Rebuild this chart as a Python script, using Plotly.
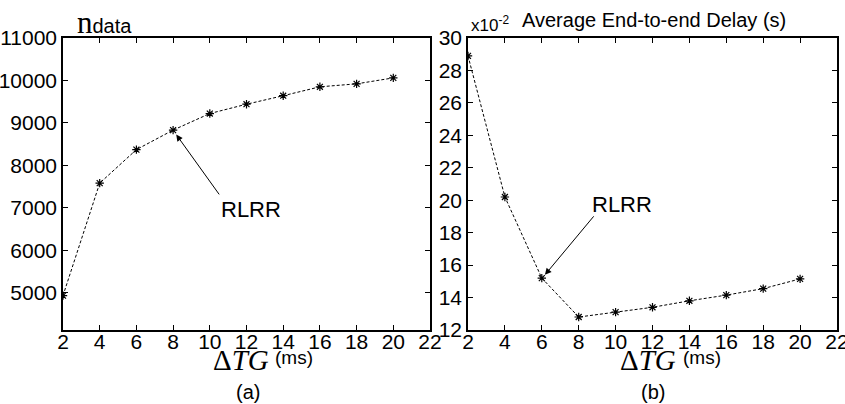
import plotly.graph_objects as go

# Guard-time values (ms)
dtg = [2, 4, 6, 8, 10, 12, 14, 16, 18, 20]

# (a) number of delivered data packets
n_data = [4930, 7580, 8370, 8830, 9220, 9440, 9640, 9850, 9920, 10060]

# (b) average end-to-end delay, in units of 1e-2 s
delay = [28.9, 20.2, 15.2, 12.8, 13.1, 13.4, 13.8, 14.15, 14.55, 15.15]

x_ticks = [2, 4, 6, 8, 10, 12, 14, 16, 18, 20, 22]
y_ticks_a = [5000, 6000, 7000, 8000, 9000, 10000, 11000]
y_ticks_b = [12, 14, 16, 18, 20, 22, 24, 26, 28, 30]

W, H = 845, 404
NARROW = "Liberation Sans Narrow, Arial Narrow, sans-serif"
SANS = "Liberation Sans, Arial, sans-serif"
SERIF = "Liberation Serif, Times New Roman, serif"

fig = go.Figure()

line_style = dict(color="black", width=1, dash="3px,2px")
marker_style = dict(symbol="asterisk-open", size=7, color="black",
                    line=dict(color="black", width=1.2))

fig.add_trace(go.Scatter(x=dtg, y=n_data, mode="lines+markers",
                         line=line_style, marker=marker_style,
                         xaxis="x", yaxis="y", showlegend=False))
fig.add_trace(go.Scatter(x=dtg, y=delay, mode="lines+markers",
                         line=line_style, marker=marker_style,
                         xaxis="x2", yaxis="y2", showlegend=False))

ydom = [1 - 330 / H, 1 - 38 / H]
axis_common = dict(showgrid=False, zeroline=False, showline=True,
                   linecolor="black", linewidth=1.5, mirror="ticks",
                   ticks="inside", ticklen=5, tickwidth=1, tickcolor="black",
                   ticklabeloverflow="allow",
                   tickfont=dict(family=NARROW, size=21, color="black"))
x_extra = dict(ticklabelstandoff=-8)

fig.update_layout(
    width=W, height=H,
    margin=dict(l=0, r=0, t=0, b=0, autoexpand=False),
    paper_bgcolor="white", plot_bgcolor="white",
    xaxis=dict(domain=[63 / W, 430 / W], range=[2, 22], tickvals=x_ticks,
               anchor="y", **x_extra, **axis_common),
    yaxis=dict(domain=ydom, range=[4120, 11000], tickvals=y_ticks_a,
               tickformat="d", anchor="x", **axis_common),
    xaxis2=dict(domain=[468 / W, 837 / W], range=[2, 22], tickvals=x_ticks,
                anchor="y2", **x_extra, **axis_common),
    yaxis2=dict(domain=ydom, range=[12, 30], tickvals=y_ticks_b,
                anchor="x2", **axis_common),
)


def px(xp, yp):
    return dict(xref="paper", yref="paper", x=xp / W, y=1 - yp / H)


ann = []
# y-axis titles
ann.append(dict(**px(75, 22), xanchor="left", yanchor="middle", showarrow=False,
                text=f"<span style='font-family:{SERIF};font-size:31px'>n</span>"
                     f"<span style='font-size:20px'>data</span>",
                font=dict(family=NARROW, size=20, color="black")))
ann.append(dict(**px(469, 24), xanchor="left", yanchor="middle", showarrow=False,
                text="x10<sup>-2</sup>",
                font=dict(family=NARROW, size=17, color="black")))
ann.append(dict(**px(520, 20), xanchor="left", yanchor="middle", showarrow=False,
                text="Average End-to-end Delay (s)",
                font=dict(family=SANS, size=20, color="black")))

# x-axis titles and panel labels
for sym_right, cx_unit, cx_lab, lab in [(271, 294, 248, "(a)"), (678, 702, 653, "(b)")]:
    ann.append(dict(**px(sym_right, 360), xanchor="right", yanchor="middle",
                    showarrow=False, text="Δ<i>TG</i>",
                    font=dict(family=SERIF, size=29, color="black")))
    ann.append(dict(**px(cx_unit, 357), xanchor="center", yanchor="middle",
                    showarrow=False, text="(ms)",
                    font=dict(family=SANS, size=19, color="black")))
    ann.append(dict(**px(cx_lab, 392), xanchor="center", yanchor="middle",
                    showarrow=False, text=lab,
                    font=dict(family=SANS, size=20, color="black")))

# RLRR callouts
ann.append(dict(xref="x", yref="y", x=8.17, y=8725, ax=10.57, ay=7280,
                axref="x", ayref="y", text="", showarrow=True,
                arrowhead=2, arrowsize=1.3, arrowwidth=1, arrowcolor="black"))
ann.append(dict(xref="x", yref="y", x=12.25, y=6970, showarrow=False,
                text="RLRR", font=dict(family=SANS, size=22, color="black")))
ann.append(dict(xref="x2", yref="y2", x=6.17, y=15.4, ax=8.88, ay=19.1,
                axref="x2", ayref="y2", text="", showarrow=True,
                arrowhead=2, arrowsize=1.3, arrowwidth=1, arrowcolor="black"))
ann.append(dict(xref="x2", yref="y2", x=10.35, y=19.75, showarrow=False,
                text="RLRR", font=dict(family=SANS, size=22, color="black")))

fig.update_layout(annotations=ann)
fig.write_html("out.html")
